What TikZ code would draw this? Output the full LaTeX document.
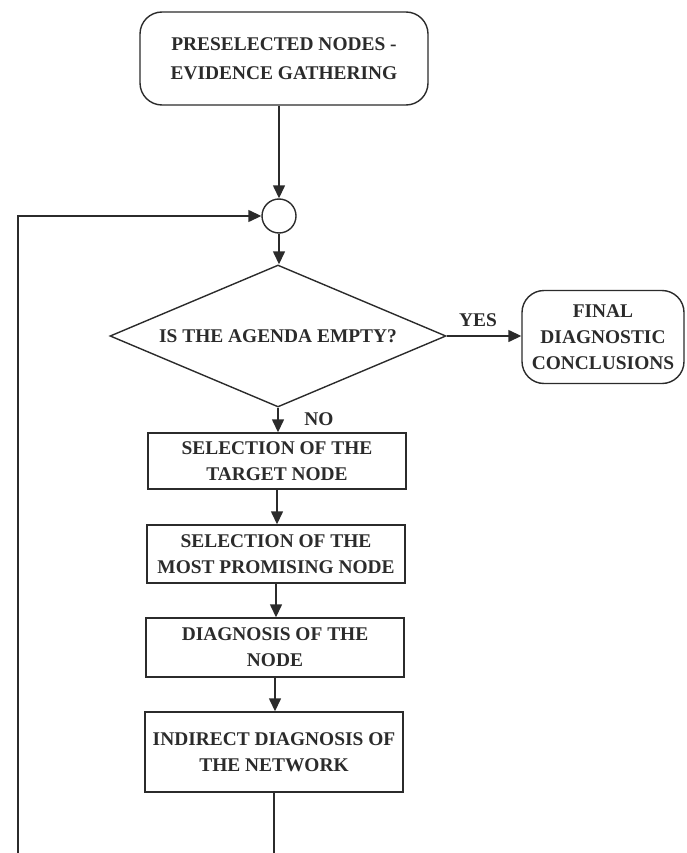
\documentclass[tikz,border=0pt]{standalone}
\usepackage{fontspec}
\setmainfont{Liberation Serif}
\usetikzlibrary{shapes.geometric,arrows.meta}
\definecolor{ink}{HTML}{2B2B2B}
\begin{document}
\begin{tikzpicture}[x=1pt,y=-1pt,
  lbl/.style={font=\fontsize{19.4pt}{26pt}\selectfont\bfseries, text=ink},
  boxrr/.style={lbl, draw=ink, line width=1.4pt, rounded corners=22pt, align=center, inner sep=0pt},
  procbox/.style={lbl, draw=ink, line width=1.4pt, rectangle, align=center, minimum width=258pt, inner sep=0pt},
  wire/.style={draw=ink, line width=1.4pt},
  flow/.style={wire, -{Triangle[length=13pt,width=12pt]}}
]
\useasboundingbox (0,0) rectangle (686,853);
\node[boxrr, minimum width=288pt, minimum height=93pt, font=\fontsize{19.4pt}{29pt}\selectfont\bfseries] (top) at (284,58.5) {PRESELECTED NODES -\\EVIDENCE GATHERING};
\node[circle, draw=ink, line width=1.4pt, minimum size=34pt, inner sep=0pt] (c) at (279,216) {};
\node[lbl, diamond, draw=ink, line width=1.4pt, aspect=2.37, minimum width=336pt, minimum height=142pt, inner sep=0pt] (d) at (278,336) {IS THE AGENDA EMPTY?};
\node[boxrr, minimum width=162pt, minimum height=93pt] (f) at (603,337) {FINAL\\DIAGNOSTIC\\CONCLUSIONS};
\node[lbl] (yes) at (478,320) {YES};
\node[lbl] (no) at (319,419) {NO};
\node[procbox, minimum height=56pt] (b1) at (277,461) {SELECTION OF THE\\TARGET NODE};
\node[procbox, minimum height=58pt] (b2) at (276,554) {SELECTION OF THE\\MOST PROMISING NODE};
\node[procbox, minimum height=59pt] (b3) at (275,647.5) {DIAGNOSIS OF THE\\NODE};
\node[procbox, minimum height=80pt] (b4) at (274,752) {INDIRECT DIAGNOSIS OF\\THE NETWORK};
\coordinate (bl) at (18,853);
\coordinate (bm) at (274,853);
\draw[flow] (top.south -| c.north) -- (c.north);
\draw[flow] (c.south) -- (c.south |- d.north);
\draw[flow] (d.east) -- (d.east -| f.west);
\draw[flow] (d.south) -- (d.south |- b1.north);
\draw[flow] (b1.south) -- (b1.south |- b2.north);
\draw[flow] (b2.south) -- (b2.south |- b3.north);
\draw[flow] (b3.south) -- (b3.south |- b4.north);
\draw[wire] (b4.south) -- (bm);
\draw[flow] (bl) -- (bl |- c.west) -- (c.west);
\end{tikzpicture}
\end{document}
